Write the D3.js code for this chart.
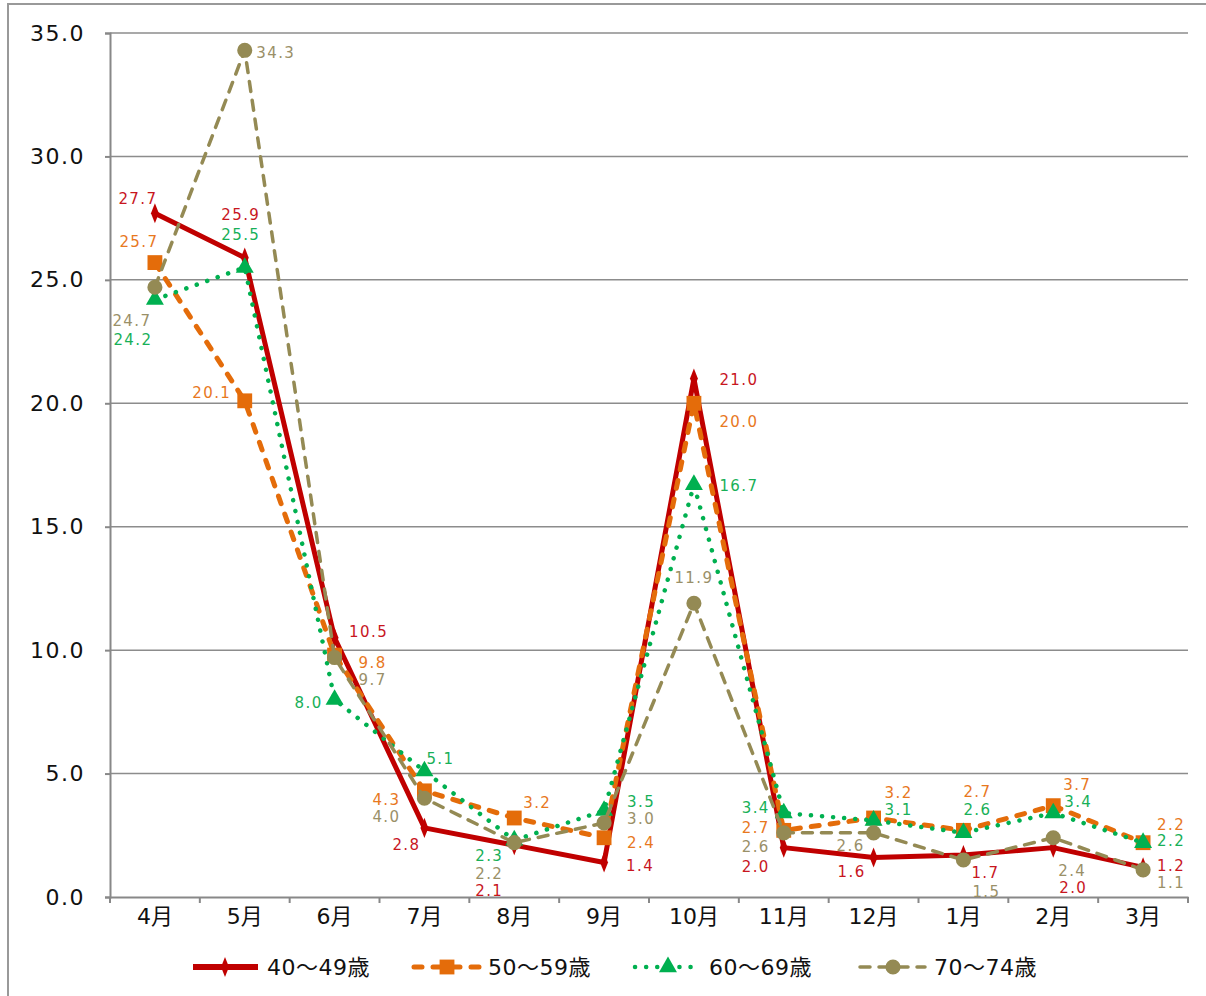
<!DOCTYPE html>
<html>
<head>
<meta charset="utf-8">
<script src="https://cdn.jsdelivr.net/npm/d3@7"></script>
<style>
  body { margin: 0; background: #fff; }
  svg { display: block; }
  text { font-family: "DejaVu Sans", "Noto Sans CJK JP", sans-serif; }
</style>
</head>
<body>
<svg></svg>
<script>
const size = {w: 1206, h: 996};
const margin = {t: 33, r: 18, b: 99, l: 110};
const svg = d3.select('svg');
svg.attr('width', size.w).attr('height', size.h);

// data
const months = ['4月', '5月', '6月', '7月', '8月', '9月', '10月', '11月', '12月', '1月', '2月', '3月'];
const seriesNames = ['40～49歳', '50～59歳', '60～69歳', '70～74歳'];
const age40 = [27.7, 25.9, 10.5, 2.8, 2.1, 1.4, 21.0, 2.0, 1.6, 1.7, 2.0, 1.2];
const age50 = [25.7, 20.1, 9.8, 4.3, 3.2, 2.4, 20.0, 2.7, 3.2, 2.7, 3.7, 2.2];
const age60 = [24.2, 25.5, 8.0, 5.1, 2.3, 3.5, 16.7, 3.4, 3.1, 2.6, 3.4, 2.2];
const age70 = [24.7, 34.3, 9.7, 4.0, 2.2, 3.0, 11.9, 2.6, 2.6, 1.5, 2.4, 1.1];
const yTicks = [0, 5, 10, 15, 20, 25, 30, 35];

// label offsets (dx, dy) from each point, to avoid overlaps
const off40 = [[-17,-14],[-4,-43],[34,-6],[-18,17],[-25,46],[36,4],[45,1],[-28,19],[-22,14],[22,18],[20,40],[28,-1]];
const off50 = [[-16,-21],[-33,-8],[38,8],[-38,9],[23,-15],[37,5],[45,19],[-28,-2],[25,-25],[14,-38],[24,-21],[28,-18]];
const off60 = [[-22,40],[-4,-33],[-26,3],[16,-12],[-25,16],[37,-9],[45,1],[-28,-5],[25,-10],[14,-23],[25,-11],[28,-2]];
const off70 = [[-23,34],[31,3],[38,22],[-38,19],[-25,31],[37,-4],[0,-25],[-28,14],[-23,13],[23,32],[19,33],[28,13]];

const styles = [
    {color: '#C00000', label: '#C8161E', width: 5, dash: null, cap: 'butt', marker: d3.symbolDiamond, msize: 75},
    {color: '#E46C0A', label: '#E8781E', width: 5, dash: '8,11', cap: 'round', marker: d3.symbolSquare, msize: 220},
    {color: '#00B050', label: '#18B058', width: 4.5, dash: '0.1,11', cap: 'round', marker: d3.symbolTriangle, msize: 140},
    {color: '#948A54', label: '#9A9068', width: 3.5, dash: '10,9', cap: 'round', marker: d3.symbolCircle, msize: 180}
];

const series = [age40, age50, age60, age70].map((vals, i) => ({
    name: seriesNames[i],
    values: vals,
    offsets: [off40, off50, off60, off70][i],
    style: styles[i]
}));

// outer border
svg.append('rect')
    .attr('x', 8).attr('y', 4)
    .attr('width', 1210).attr('height', 1010)
    .attr('fill', 'none')
    .attr('stroke', '#999')
    .attr('stroke-width', 2);

const x = d3.scaleBand()
    .domain(months)
    .range([margin.l, size.w - margin.r]);

const y = d3.scaleLinear()
    .domain([0, 35])
    .range([size.h - margin.b, margin.t]);

const plotG = svg.append('g');

// gridlines
plotG.append('g').selectAll('line')
    .data(yTicks.filter(d => d > 0))
    .join('line')
    .attr('x1', margin.l).attr('x2', size.w - margin.r)
    .attr('y1', d => y(d)).attr('y2', d => y(d))
    .attr('stroke', '#8c8c8c')
    .attr('stroke-width', 1.5);

// y axis
const yAxis = plotG.append('g')
    .attr('transform', `translate(${margin.l},0)`)
    .call(d3.axisLeft(y).tickValues(yTicks).tickFormat(d3.format('.1f')).tickSize(5).tickPadding(20));
yAxis.select('.domain').attr('stroke', '#888').attr('stroke-width', 2);
yAxis.selectAll('.tick line').attr('stroke', '#888').attr('stroke-width', 2);
yAxis.selectAll('.tick text')
    .attr('font-size', 22)
    .attr('fill', '#111')
    .attr('letter-spacing', 1.5);

// x axis
const xAxis = plotG.append('g')
    .attr('transform', `translate(0,${y(0)})`)
    .call(d3.axisBottom(x).tickSize(0).tickPadding(11));
xAxis.select('.domain').attr('stroke', '#888').attr('stroke-width', 2);
xAxis.selectAll('.tick text')
    .attr('font-size', 22)
    .attr('fill', '#111');
// tick marks between categories
xAxis.append('g').selectAll('line')
    .data(d3.range(months.length + 1))
    .join('line')
    .attr('x1', i => margin.l + i * x.bandwidth())
    .attr('x2', i => margin.l + i * x.bandwidth())
    .attr('y1', 0).attr('y2', 6)
    .attr('stroke', '#888')
    .attr('stroke-width', 2);

// series
const line = d3.line()
    .x((d, i) => x(months[i]) + x.bandwidth() / 2)
    .y(d => y(d));

series.forEach(s => {
    const g = plotG.append('g').classed('series', true);
    g.append('path')
        .attr('d', line(s.values))
        .attr('fill', 'none')
        .attr('stroke', s.style.color)
        .attr('stroke-width', s.style.width)
        .attr('stroke-dasharray', s.style.dash)
        .attr('stroke-linecap', s.style.cap)
        .attr('stroke-linejoin', 'round');
    g.selectAll('path.marker')
        .data(s.values)
        .join('path')
        .classed('marker', true)
        .attr('d', d3.symbol().type(s.style.marker).size(s.style.msize))
        .attr('transform', (d, i) => {
            const sy = s.style.marker === d3.symbolDiamond ? ' scale(0.85,1.25)' : '';
            return `translate(${x(months[i]) + x.bandwidth() / 2},${y(d)})` + sy;
        })
        .attr('fill', s.style.color);
});

// data labels (drawn on top)
series.forEach(s => {
    plotG.append('g').selectAll('text')
        .data(s.values)
        .join('text')
        .attr('x', (d, i) => x(months[i]) + x.bandwidth() / 2 + s.offsets[i][0])
        .attr('y', (d, i) => y(d) + s.offsets[i][1])
        .attr('text-anchor', 'middle')
        .attr('dominant-baseline', 'central')
        .attr('font-size', 15)
        .attr('letter-spacing', 1.4)
        .attr('fill', s.style.label)
        .text(d => d3.format('.1f')(d));
});

// legend
const legendX = [190, 411, 632, 857];
const legendG = svg.append('g').attr('transform', 'translate(0,967)');
series.forEach((s, i) => {
    const g = legendG.append('g').attr('transform', `translate(${legendX[i]},0)`);
    g.append('line')
        .attr('x1', 3).attr('x2', 68)
        .attr('stroke', s.style.color)
        .attr('stroke-width', s.style.width + (i === 0 ? 1 : 0))
        .attr('stroke-dasharray', s.style.dash)
        .attr('stroke-linecap', s.style.cap);
    g.append('path')
        .attr('d', d3.symbol().type(s.style.marker).size(s.style.msize))
        .attr('transform', s.style.marker === d3.symbolDiamond ? 'translate(35,0) scale(0.85,1.25)' : 'translate(36,0)')
        .attr('fill', s.style.color);
    g.append('text')
        .attr('x', 77)
        .attr('dominant-baseline', 'central')
        .attr('font-size', 22)
        .attr('letter-spacing', 0.5)
        .attr('fill', '#111')
        .text(s.name);
});
</script>
</body>
</html>
